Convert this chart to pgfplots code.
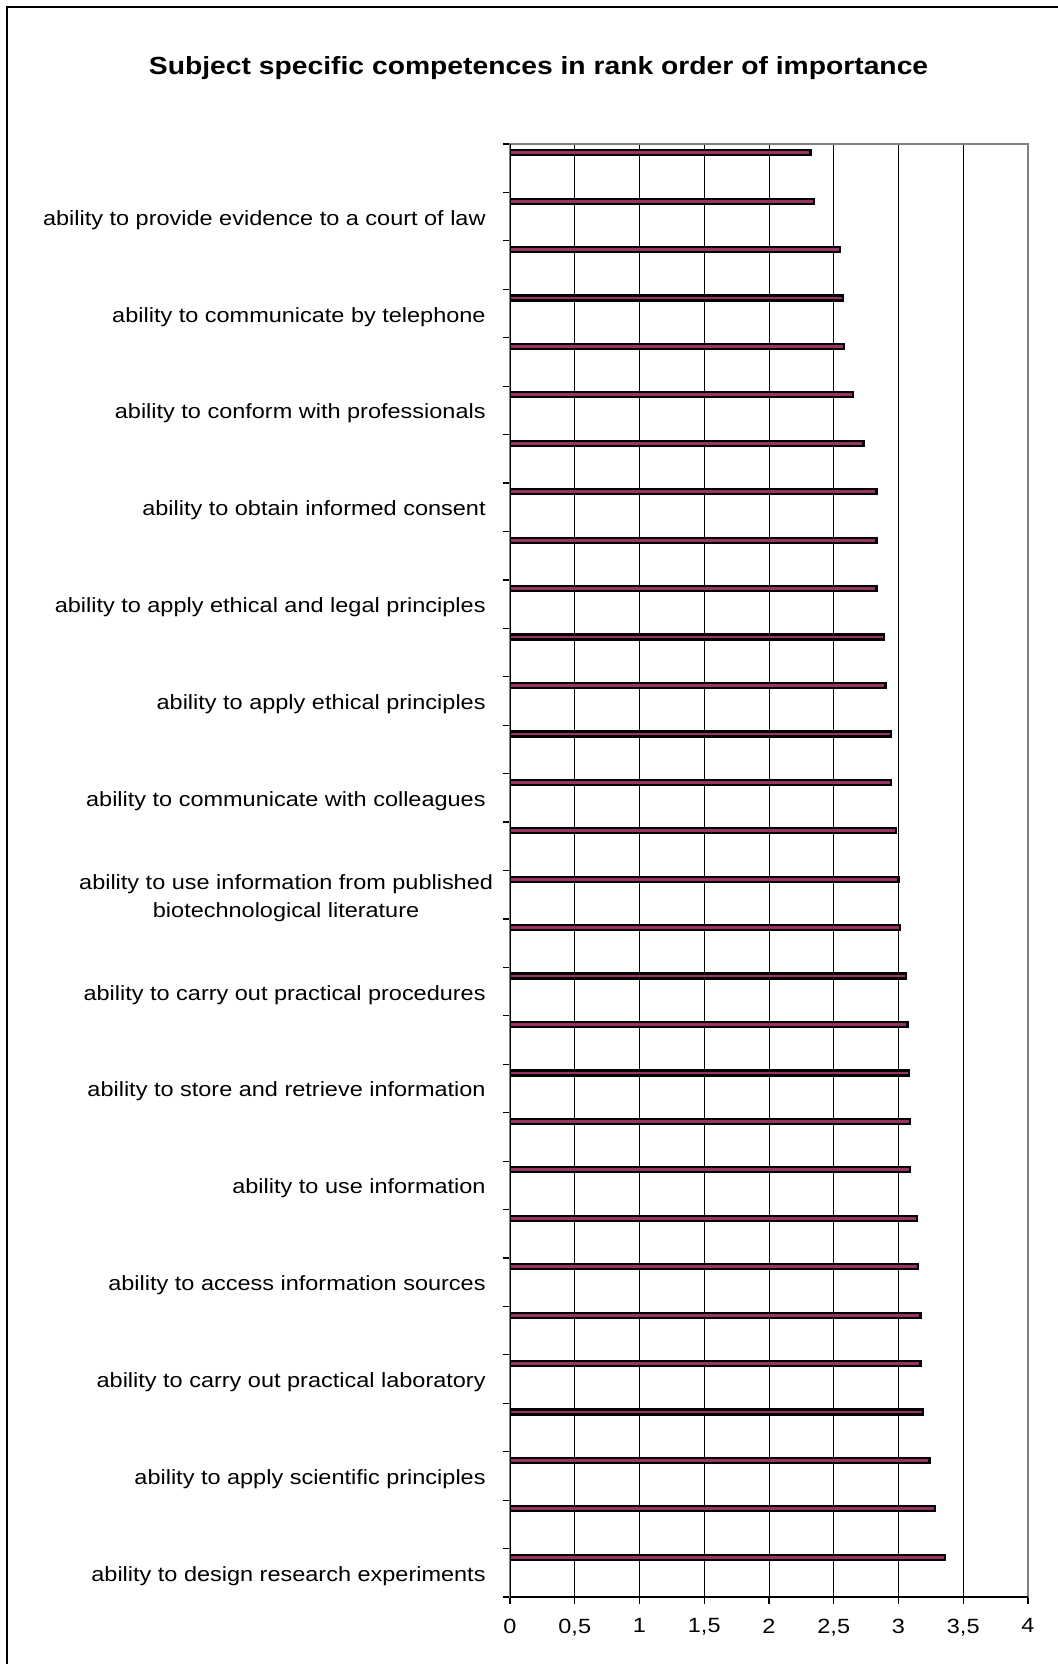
\documentclass[border=0pt]{standalone}
\usepackage{fontspec}
\setmainfont{Liberation Sans}[FakeStretch=1.14]
\usepackage{pgfplots}
\usepackage{pgfplotstable}
\pgfplotsset{compat=1.18}

\definecolor{plum}{RGB}{153,51,102}
\definecolor{boxgray}{RGB}{128,128,128}

% mean importance score for each competence, bottom (pos 1) to top (pos 30)
\pgfplotstableread{
pos score
1  3.36
2  3.28
3  3.24
4  3.19
5  3.17
6  3.17
7  3.15
8  3.14
9  3.09
10 3.09
11 3.08
12 3.07
13 3.06
14 3.01
15 3.00
16 2.98
17 2.94
18 2.94
19 2.90
20 2.89
21 2.83
22 2.83
23 2.83
24 2.73
25 2.65
26 2.58
27 2.57
28 2.55
29 2.35
30 2.32
}\scores

\newcommand{\lblfont}{\fontsize{10.3}{14.25}\selectfont}

\begin{document}
\begin{tikzpicture}
% page area, origin at top left
\path[use as bounding box] (0pt,0pt) rectangle (529pt,-832pt);
% chart frame
\draw[line width=0.75pt] (3.5pt,-840pt) -- (3.5pt,-3.5pt) -- (540pt,-3.5pt);
\node[font=\fontsize{12.4}{14}\selectfont\bfseries] at (269.3pt,-33.9pt)
  {Subject specific competences in rank order of importance};

\begin{axis}[
  at={(255pt,-798.5pt)}, anchor=south west,
  width=259pt, height=726.5pt, scale only axis,
  xmin=0, xmax=4, ymin=0.5, ymax=30.5,
  xbar, bar width=2.5pt, bar shift=7.75pt,
  axis line style={draw=boxgray, line width=0.85pt},
  tick align=outside, tick pos=left,
  major tick length=0pt, minor tick length=3.5pt,
  every tick/.style={black, line width=0.6pt},
  xtick={0,0.5,...,4}, minor xtick={0,0.5,...,4},
  ytick={1,3,...,29}, minor ytick={0.5,1.5,...,30.5},
  xmajorgrids, major grid style={black, line width=0.5pt},
  scaled x ticks=false,
  /pgf/number format/.cd, use comma, assume math mode=true,
  /pgfplots/.cd,
  xticklabel style={anchor=north, inner sep=0pt, yshift=-10.65pt, font=\lblfont},
  yticklabel style={anchor=east, inner sep=0pt, xshift=-12pt, yshift=-1.6pt, align=center, font=\lblfont},
  yticklabels={
    ability to design research experiments,
    ability to apply scientific principles,
    ability to carry out practical laboratory,
    ability to access information sources,
    ability to use information,
    ability to store and retrieve information,
    ability to carry out practical procedures,
    {\begin{tabular}{@{}c@{}}ability to use information from published\\biotechnological literature\end{tabular}\kern-3.7pt},
    ability to communicate with colleagues,
    ability to apply ethical principles,
    ability to apply ethical and legal principles,
    ability to obtain informed consent,
    ability to conform with professionals,
    ability to communicate by telephone,
    ability to provide evidence to a court of law
  },
]
\addplot[fill=plum, draw=black, line width=1.1pt] table[x=score, y=pos] {\scores};
\draw[black, line width=0.85pt] (rel axis cs:0,1) -- (rel axis cs:0,0) -- (rel axis cs:1,0);
\end{axis}
\end{tikzpicture}
\end{document}
